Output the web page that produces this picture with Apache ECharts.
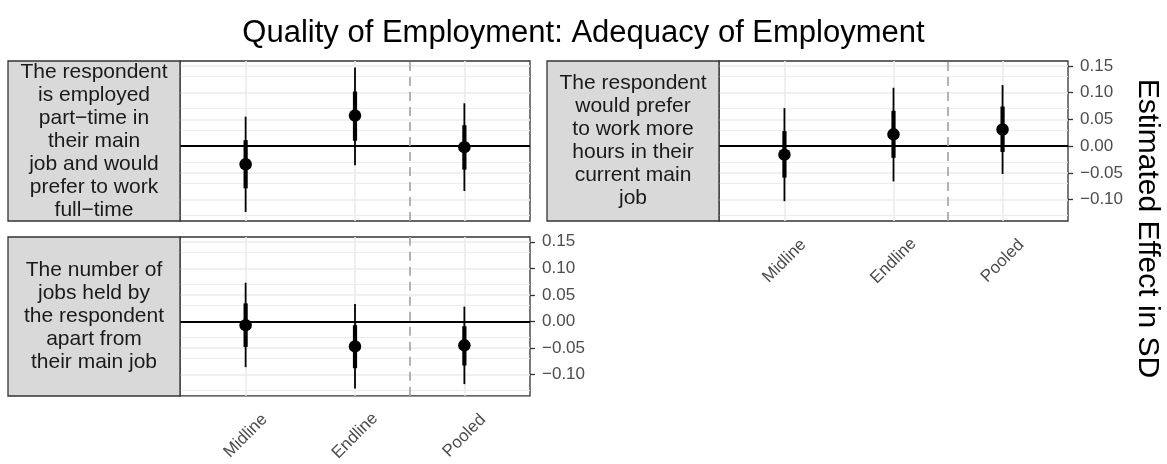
<!DOCTYPE html>
<html>
<head>
<meta charset="utf-8">
<script src="https://cdn.jsdelivr.net/npm/echarts@6/dist/echarts.min.js"></script>
<style>
  * { padding: 0; margin: 0; }
  body { background: #fff; }
</style>
</head>
<body>
<div id="chart" style="width: 1167px; height: 464px"></div>
<script>
// waves on the x axis
const waves = ["Midline", "Endline", "Pooled"];
// facet strip labels (one per panel)
const facetLabels = [
  "The respondent\nis employed\npart\u2212time in\ntheir main\njob and would\nprefer to work\nfull\u2212time",
  "The respondent\nwould prefer\nto work more\nhours in their\ncurrent main\njob",
  "The number of\njobs held by\nthe respondent\napart from\ntheir main job",
];
// point estimates, one row per panel
const estimates = [
  [-0.034, 0.057, -0.002],
  [-0.016, 0.022, 0.031],
  [-0.007, -0.047, -0.045],
];
// inner (thick) interval
const innerLow = [
  [-0.079, 0.010, -0.044],
  [-0.059, -0.022, -0.011],
  [-0.048, -0.088, -0.083],
];
const innerHigh = [
  [0.011, 0.102, 0.039],
  [0.028, 0.066, 0.074],
  [0.034, -0.007, -0.009],
];
// outer (thin) interval
const outerLow = [
  [-0.123, -0.036, -0.084],
  [-0.103, -0.066, -0.052],
  [-0.086, -0.126, -0.118],
];
const outerHigh = [
  [0.055, 0.147, 0.080],
  [0.071, 0.109, 0.114],
  [0.073, 0.033, 0.028],
];
const yTicks = [-0.10, -0.05, 0, 0.05, 0.10, 0.15];
const yMinorGrid = [-0.125, -0.075, -0.025, 0.025, 0.075, 0.125];
const xTicks = [1, 2, 3];
const separatorAt = 2.5;

const FONT = '"Liberation Sans", Arial, Helvetica, sans-serif';

const grids = [
  { left: 180, top: 61, width: 350, height: 160 },
  { left: 719, top: 61, width: 349, height: 160 },
  { left: 180, top: 237, width: 350, height: 159 },
];
// which panels carry axis labels
const showX = [false, true, true];
const showY = [false, true, true];

function fmt(v) {
  const s = Math.abs(v).toFixed(2);
  return v < -1e-9 ? "\u2212" + s : s;
}

const chart = echarts.init(document.getElementById("chart"));

const xAxes = [], yAxes = [], series = [], graphics = [];

grids.forEach((g, i) => {
  xAxes.push({
    type: "value",
    gridIndex: i,
    min: 0.4,
    max: 3.6,
    axisLine: { show: false },
    splitLine: { show: false },
    axisTick: {
      show: showX[i],
      customValues: xTicks,
      length: 5,
      lineStyle: { color: "#333333", width: 1.3 },
    },
    axisLabel: {
      show: showX[i],
      customValues: xTicks,
      formatter: (v) => waves[Math.round(v) - 1],
      rotate: 45,
      align: "center",
      verticalAlign: "middle",
      margin: 40,
      fontFamily: FONT,
      fontSize: 17,
      color: "#4d4d4d",
    },
  });
  yAxes.push({
    type: "value",
    gridIndex: i,
    position: "right",
    min: -0.14,
    max: 0.159,
    axisLine: { show: false },
    splitLine: { show: false },
    axisTick: {
      show: showY[i],
      customValues: yTicks,
      length: 5,
      lineStyle: { color: "#333333", width: 1.3 },
    },
    axisLabel: {
      show: showY[i],
      customValues: yTicks,
      formatter: fmt,
      margin: 12,
      fontFamily: FONT,
      fontSize: 17,
      color: "#4d4d4d",
    },
  });

  // grid lines
  series.push({
    type: "line",
    xAxisIndex: i,
    yAxisIndex: i,
    data: [],
    silent: true,
    z: 1,
    markLine: {
      z: 1,
      silent: true,
      symbol: ["none", "none"],
      label: { show: false },
      animation: false,
      data: [
        ...yMinorGrid.map((v) => ({ yAxis: v, lineStyle: { color: "#ebebeb", width: 0.9, type: "solid" } })),
        ...yTicks.map((v) => ({ yAxis: v, lineStyle: { color: "#ebebeb", width: 1.6, type: "solid" } })),
        ...xTicks.map((v) => ({ xAxis: v, lineStyle: { color: "#ebebeb", width: 1.6, type: "solid" } })),
      ],
    },
  });
  // zero line and wave separator
  series.push({
    type: "line",
    xAxisIndex: i,
    yAxisIndex: i,
    data: [],
    silent: true,
    z: 2,
    markLine: {
      z: 2,
      silent: true,
      symbol: ["none", "none"],
      label: { show: false },
      animation: false,
      data: [
        { yAxis: 0, lineStyle: { color: "#000000", width: 2, type: "solid" } },
        { xAxis: separatorAt, lineStyle: { color: "#a6a6a6", width: 1.7, type: [9, 6] } },
      ],
    },
  });
  // intervals
  series.push({
    type: "custom",
    xAxisIndex: i,
    yAxisIndex: i,
    z: 3,
    silent: true,
    data: xTicks.map((x, k) => [x, outerLow[i][k], outerHigh[i][k], innerLow[i][k], innerHigh[i][k]]),
    encode: { x: 0, y: [1, 2] },
    renderItem: (params, api) => {
      const x = api.value(0);
      const a = api.coord([x, api.value(1)]);
      const b = api.coord([x, api.value(2)]);
      const c = api.coord([x, api.value(3)]);
      const d = api.coord([x, api.value(4)]);
      return {
        type: "group",
        children: [
          { type: "line", shape: { x1: a[0], y1: a[1], x2: b[0], y2: b[1] }, style: { stroke: "#000", lineWidth: 1.8 } },
          { type: "line", shape: { x1: c[0], y1: c[1], x2: d[0], y2: d[1] }, style: { stroke: "#000", lineWidth: 4.2 } },
        ],
      };
    },
  });
  // point estimates
  series.push({
    type: "scatter",
    xAxisIndex: i,
    yAxisIndex: i,
    z: 4,
    silent: true,
    symbol: "circle",
    symbolSize: 12.5,
    itemStyle: { color: "#000", opacity: 1 },
    data: xTicks.map((x, k) => [x, estimates[i][k]]),
  });

  // facet strip on the left
  graphics.push({
    type: "rect",
    shape: { x: g.left - 172, y: g.top, width: 172, height: g.height },
    style: { fill: "#d9d9d9", stroke: "#333333", lineWidth: 1.3 },
    z: 10,
  });
  graphics.push({
    type: "text",
    x: g.left - 86,
    y: g.top + g.height / 2,
    style: {
      text: facetLabels[i],
      font: "21px " + FONT,
      fill: "#1a1a1a",
      textAlign: "center",
      textVerticalAlign: "middle",
      lineHeight: 23,
    },
    z: 11,
  });
});

graphics.push({
  type: "text",
  x: 1147,
  y: 228.5,
  rotation: -Math.PI / 2,
  style: {
    text: "Estimated Effect in SD",
    font: "30px " + FONT,
    fill: "#000",
    textAlign: "center",
    textVerticalAlign: "middle",
  },
});

chart.setOption({
  animation: false,
  backgroundColor: "#ffffff",
  title: {
    text: "Quality of Employment: Adequacy of Employment",
    left: "center",
    top: 13,
    textStyle: { fontFamily: FONT, fontSize: 31, fontWeight: "normal", color: "#000" },
  },
  grid: grids.map((g) => ({ ...g, show: true, backgroundColor: "#fff", borderColor: "#333333", borderWidth: 1.3 })),
  xAxis: xAxes,
  yAxis: yAxes,
  series: series,
  graphic: graphics,
});
</script>
</body>
</html>
